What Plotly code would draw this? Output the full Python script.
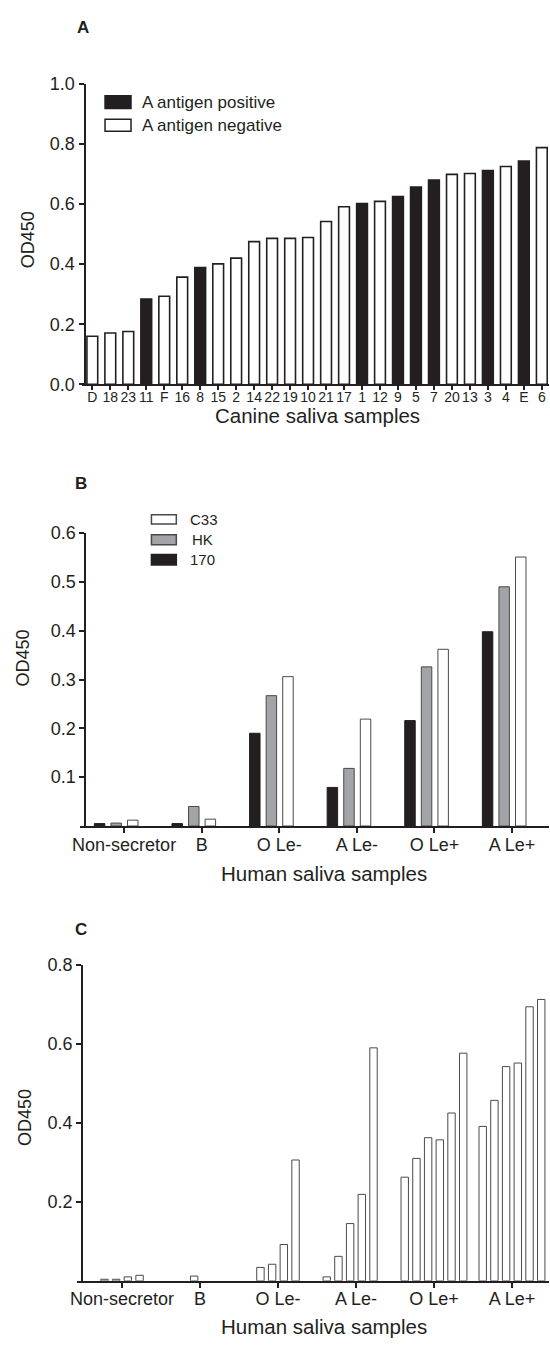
import plotly.graph_objects as go

# ---------------- data ----------------
canine_labels = ["D", "18", "23", "11", "F", "16", "8", "15", "2", "14", "22", "19", "10",
                 "21", "17", "1", "12", "9", "5", "7", "20", "13", "3", "4", "E", "6"]
canine_od = [0.160, 0.171, 0.176, 0.284, 0.293, 0.357, 0.389, 0.401, 0.420, 0.475, 0.486,
             0.486, 0.489, 0.542, 0.591, 0.602, 0.609, 0.625, 0.657, 0.680, 0.699, 0.702,
             0.712, 0.725, 0.743, 0.788]
a_antigen_positive = [False, False, False, True, False, False, True, False, False, False,
                      False, False, False, False, False, True, False, True, True, True,
                      False, False, True, False, True, False]

human_groups = ["Non-secretor", "B", "O Le-", "A Le-", "O Le+", "A Le+"]
od_170 = [0.005, 0.005, 0.190, 0.079, 0.216, 0.398]
od_hk = [0.006, 0.040, 0.267, 0.118, 0.326, 0.490]
od_c33 = [0.012, 0.014, 0.306, 0.219, 0.362, 0.551]

c_nonsecretor = [0.004, 0.004, 0.010, 0.014]
c_b = [0.012, None]
c_o_le_neg = [0.034, 0.042, 0.092, 0.306]
c_a_le_neg = [0.010, 0.062, 0.145, 0.219, 0.590, None]
c_o_le_pos = [0.2625, 0.310, 0.3625, 0.357, 0.425, 0.5765]
c_a_le_pos = [0.391, 0.457, 0.5425, 0.5515, 0.694, 0.7125]
panel_c_values = [c_nonsecretor, c_b, c_o_le_neg, c_a_le_neg, c_o_le_pos, c_a_le_pos]

# ---------------- styling ----------------
W, H = 550, 1347
INK = "#231f20"
GREY = "#a3a4a7"
FONT = "Liberation Sans, Arial, sans-serif"


def px(x):
    return x / W


def py(y):
    return 1 - y / H


fig = go.Figure()

# Panel A
fig.add_trace(go.Bar(
    x=canine_labels, y=canine_od,
    marker=dict(color=[INK if p else "white" for p in a_antigen_positive],
                line=dict(color=INK, width=1.6)),
    width=0.6, xaxis="x", yaxis="y", showlegend=False, name="Canine"))

# Panel B
pitch_b, width_b, shift_b = 0.2137, 0.135, -0.102
for k, (vals, col, nm) in enumerate([(od_170, INK, "170"), (od_hk, GREY, "HK"),
                                     (od_c33, "white", "C33")]):
    fig.add_trace(go.Bar(
        x=list(range(len(human_groups))), y=vals,
        width=width_b, offset=shift_b + (k - 1) * pitch_b - width_b / 2,
        marker=dict(color=col, line=dict(color="#4a4a4a" if col != INK else INK, width=1)),
        xaxis="x2", yaxis="y2", showlegend=False, name=nm))

# Panel C
pitch_c, width_c = 0.150, 0.095
cx, cy = [], []
for gi, vals in enumerate(panel_c_values):
    n = len(vals)
    for j, v in enumerate(vals):
        if v is None:
            continue
        cx.append(gi + (j - (n - 1) / 2) * pitch_c)
        cy.append(v)
fig.add_trace(go.Bar(
    x=cx, y=cy, width=width_c,
    marker=dict(color="white", line=dict(color="#4a4a4a", width=1)),
    xaxis="x3", yaxis="y3", showlegend=False, name="Human"))

axis_common = dict(showline=True, linecolor=INK, linewidth=2, showgrid=False, zeroline=False,
                   ticks="outside", tickcolor=INK, tickwidth=1.5,
                   tickfont=dict(family=FONT, size=18, color=INK))

fig.update_layout(
    width=W, height=H, margin=dict(l=0, r=0, t=0, b=0),
    paper_bgcolor="white", plot_bgcolor="white", barmode="overlay",
    showlegend=False,
    xaxis=dict(axis_common, domain=[px(75.5), px(549)], anchor="y", type="category",
               categoryorder="array", categoryarray=canine_labels,
               range=[-0.6, 25.4], ticklen=4, ticklabelstandoff=-5,
               tickfont=dict(family="Liberation Sans Narrow, " + FONT, size=14, color=INK)),
    yaxis=dict(axis_common, domain=[py(380), py(75)], anchor="free", position=px(78.5),
               range=[0, 1.0], tickvals=[0, 0.2, 0.4, 0.6, 0.8, 1.0],
               ticktext=["0.0", "0.2", "0.4", "0.6", "0.8", "1.0"], ticklen=5),
    xaxis2=dict(axis_common, domain=[px(73.5), px(549)], anchor="y2",
                range=[-0.574, 5.476], tickvals=list(range(len(human_groups))),
                ticktext=human_groups, ticklen=5, ticklabelstandoff=-4),
    yaxis2=dict(axis_common, domain=[py(828.3), py(531)], anchor="free", position=px(79.5),
                range=[0, 0.6], tickvals=[0.1, 0.2, 0.3, 0.4, 0.5, 0.6],
                ticktext=["0.1", "0.2", "0.3", "0.4", "0.5", "0.6"], ticklen=5),
    xaxis3=dict(axis_common, domain=[px(71.3), px(549)], anchor="y3",
                range=[-0.572, 5.475], tickvals=list(range(len(human_groups))),
                ticktext=human_groups, ticklen=5, ticklabelstandoff=-4),
    yaxis3=dict(axis_common, domain=[py(1290), py(969.3)], anchor="free", position=px(76),
                range=[0, 0.8], tickvals=[0.2, 0.4, 0.6, 0.8],
                ticktext=["0.2", "0.4", "0.6", "0.8"], ticklen=5),
)

ann = []


def text(x, y, s, size, bold=False, angle=0, xanchor="center"):
    ann.append(dict(x=px(x), y=py(y), xref="paper", yref="paper", text=f"<b>{s}</b>" if bold else s,
                    showarrow=False, xanchor=xanchor, yanchor="middle", textangle=angle,
                    font=dict(family=FONT, size=size, color=INK)))


# panel letters
text(69, 18, "A", 17, bold=True, xanchor="left")
text(67, 480.5, "B", 17, bold=True, xanchor="left")
text(66.5, 933.7, "C", 17, bold=True, xanchor="left")
# axis titles
text(21, 233, "OD450", 18, angle=-90)
text(16, 657.5, "OD450", 18, angle=-90)
text(19, 1124, "OD450", 18, angle=-90)
text(314, 412, "Canine saliva samples", 20.5)
text(321, 877, "Human saliva samples", 20.5)
text(321, 1336, "Human saliva samples", 20.5)
# legend texts
text(135, 93.5, "A antigen positive", 17, xanchor="left")
text(135, 117, "A antigen negative", 17, xanchor="left")
text(183, 517, "C33", 15, xanchor="left")
text(185, 537.7, "HK", 15, xanchor="left")
text(183, 558, "170", 15, xanchor="left")

shapes = []


def box(x0, x1, y0, y1, fill, line=INK):
    shapes.append(dict(type="rect", xref="paper", yref="paper",
                       x0=px(x0), x1=px(x1), y0=py(y1), y1=py(y0),
                       fillcolor=fill, line=dict(color=line, width=1.5)))


box(99.3, 125.6, 87, 100, INK)
box(99.3, 125.6, 111, 123, "white")
box(146.3, 171.5, 512.3, 521.7, "white", "#4a4a4a")
box(146.3, 171.5, 532.7, 542.7, GREY, "#4a4a4a")
box(146.3, 171.5, 552.7, 563.3, INK)

fig.update_layout(annotations=ann, shapes=shapes)
fig.write_html("out.html", config={"displayModeBar": False},
               post_script="document.body.style.margin='0';document.body.style.overflow='hidden';")
